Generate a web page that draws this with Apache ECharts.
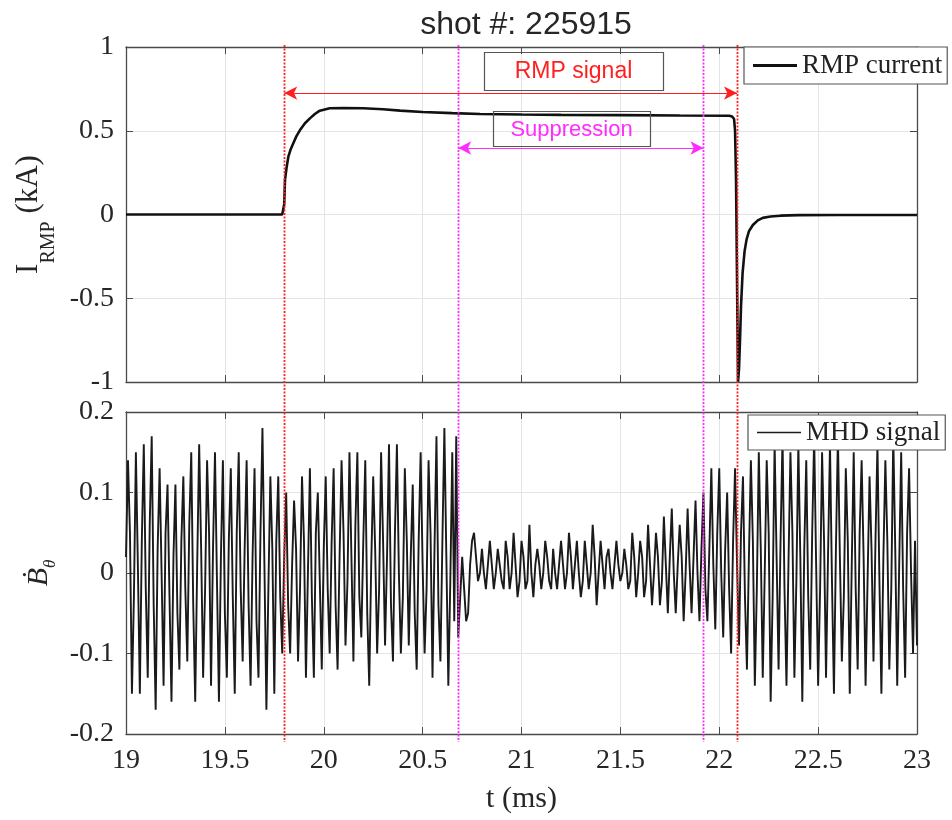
<!DOCTYPE html>
<html><head><meta charset="utf-8">
<script src="https://cdn.jsdelivr.net/npm/echarts@6/dist/echarts.min.js"></script>
<style>html,body{margin:0;padding:0;background:#fff}#c{width:952px;height:820px}</style>
</head><body><div id="c"></div>
<script>
// ---------------- DATA ----------------
const chartTitle = 'shot #: 225915';
const xRange = [19, 23];
const xStep = 0.5;
const yTopRange = [-1, 1];
const yTopStep = 0.5;
const yBotRange = [-0.2, 0.2];
const yBotStep = 0.1;

// RMP coil current (kA)
const rmpT = [19.0, 19.79, 19.795, 19.80, 19.804, 19.812, 19.821, 19.833, 19.846, 19.862, 19.88, 19.905, 19.93, 19.955, 19.98, 20.03, 20.1, 20.2, 20.3, 20.386, 20.5, 20.65, 20.79, 21.0, 21.2, 21.5, 21.8, 22.05, 22.065, 22.075, 22.08, 22.085, 22.09, 22.095, 22.10, 22.105, 22.11, 22.118, 22.128, 22.138, 22.15, 22.17, 22.195, 22.22, 22.26, 22.31, 22.4, 22.6, 23.0];
const rmpI = [0, 0, 0.0, 0.06, 0.206, 0.28, 0.345, 0.39, 0.425, 0.468, 0.504, 0.545, 0.574, 0.6, 0.62, 0.634, 0.636, 0.634, 0.628, 0.62, 0.612, 0.605, 0.6, 0.597, 0.595, 0.593, 0.591, 0.59, 0.585, 0.57, 0.5, 0.2, -0.4, -1.0, -0.92, -0.75, -0.55, -0.35, -0.22, -0.15, -0.1, -0.063, -0.035, -0.02, -0.012, -0.007, -0.004, -0.003, -0.003];

// MHD signal (Mirnov dB/dt), sampled from 19.00 ms every 0.01 ms
const mhdStart = 19.0;
const mhdStep = 0.01;
const mhdValues = [
  // 19.00 - 19.79
  0.02, 0.14, 0.05, -0.15, -0.03, 0.15, 0.01, -0.15, 0.04, 0.16, -0.02, -0.13, 0.06, 0.17, -0.04, -0.17, 0.03, 0.13, 0.00, -0.14,
  0.05, 0.11, -0.03, -0.16, 0.02, 0.11, -0.05, -0.12, 0.04, 0.12, -0.02, -0.11, 0.06, 0.15, -0.04, -0.16, 0.01, 0.16, 0.03, -0.13,
  -0.02, 0.14, 0.05, -0.14, 0.03, 0.15, -0.01, -0.16, 0.02, 0.14, -0.05, -0.13, 0.04, 0.13, -0.03, -0.15, 0.05, 0.15, -0.02, -0.11,
  0.03, 0.14, -0.04, -0.14, 0.02, 0.13, -0.06, -0.13, 0.05, 0.18, 0.01, -0.17, -0.02, 0.12, 0.03, -0.15, 0.04, 0.12, -0.03, -0.10,
  // 19.80 - 20.67
  0.02, 0.10, -0.04, -0.10, 0.01, 0.09, 0.03, -0.11, -0.02, 0.12, 0.04, -0.13, 0.00, 0.13, -0.03, -0.13, 0.05, 0.10, -0.01, -0.12,
  0.03, 0.12, -0.02, -0.10, 0.04, 0.13, -0.04, -0.12, 0.02, 0.14, 0.05, -0.09, -0.01, 0.15, 0.02, -0.11, 0.06, 0.15, -0.03, -0.08,
  0.04, 0.14, -0.05, -0.14, 0.01, 0.12, 0.03, -0.10, -0.02, 0.15, 0.04, -0.09, 0.02, 0.16, -0.04, -0.11, 0.05, 0.16, 0.00, -0.10,
  -0.03, 0.13, 0.04, -0.09, 0.02, 0.11, -0.05, -0.12, 0.04, 0.15, 0.01, -0.10, -0.02, 0.14, 0.05, -0.13, 0.03, 0.17, -0.04, -0.11,
  0.04, 0.18, 0.02, -0.14, -0.01, 0.15, -0.06, 0.17,
  // 20.68 - 21.59 (suppression)
  -0.08, -0.03, 0.02, -0.02, -0.06, -0.05, 0.01, 0.04, 0.05, 0.02, -0.01, 0.00,
  0.03, 0.00, -0.02, 0.01, 0.04, 0.01, -0.02, 0.00, 0.03, 0.01, -0.01, -0.02, 0.04, 0.02, -0.02, 0.00, 0.05, 0.01, -0.03, -0.01,
  0.04, 0.02, -0.02, -0.01, 0.06, 0.00, -0.03, 0.01, 0.03, 0.01, -0.02, 0.00, 0.04, 0.02, -0.01, -0.02, 0.03, 0.00, -0.02, 0.01,
  0.04, 0.01, -0.02, 0.00, 0.05, 0.02, -0.02, 0.01, 0.04, 0.00, -0.03, -0.01, 0.04, 0.01, -0.02, 0.00, 0.06, 0.02, -0.04, 0.00,
  0.04, 0.01, -0.02, 0.02, 0.03, 0.00, -0.02, 0.01, 0.04, 0.01, -0.01, 0.00, 0.03, 0.01, -0.02, -0.01, 0.05, 0.02, -0.03, 0.00,
  // 21.60 - 21.91 (growing)
  0.04, 0.02, -0.03, -0.01, 0.06, 0.01, -0.04, 0.00, 0.05, 0.02, -0.04, -0.01, 0.07, 0.01, -0.05, 0.02, 0.08, 0.00, -0.05, 0.01,
  0.06, 0.02, -0.06, 0.00, 0.08, 0.01, -0.05, 0.02, 0.09, 0.00, -0.06, 0.03,
  // 21.92 - 23.00
  0.10, -0.02, -0.06, 0.03, 0.13, 0.01, -0.07, 0.05,
  0.13, 0.00, -0.08, 0.03, 0.10, -0.02, -0.10, 0.04, 0.13, 0.01, -0.09, 0.05, 0.12, -0.03, -0.12, 0.02, 0.14, 0.04, -0.14, -0.02,
  0.15, 0.03, -0.13, 0.00, 0.14, 0.05, -0.16, -0.03, 0.16, 0.02, -0.12, 0.04, 0.17, -0.02, -0.14, 0.01, 0.15, 0.05, -0.13, -0.01,
  0.16, 0.02, -0.16, 0.03, 0.14, -0.03, -0.12, 0.05, 0.17, 0.01, -0.14, -0.02, 0.15, 0.04, -0.13, 0.02, 0.16, -0.01, -0.15, 0.03,
  0.17, 0.02, -0.11, -0.03, 0.13, 0.04, -0.15, 0.01, 0.15, -0.02, -0.12, 0.05, 0.14, 0.02, -0.14, -0.01, 0.12, 0.03, -0.11, 0.04,
  0.16, -0.01, -0.15, 0.02, 0.14, 0.04, -0.12, -0.02, 0.17, 0.03, -0.14, 0.01, 0.15, -0.02, -0.13, 0.05, 0.13, 0.00, -0.10, 0.04,
  -0.09
];

// event markers (ms)
const rmpOnOff = [19.80, 22.09];
const suppressionStartEnd = [20.68, 21.92];
// annotation anchors (data coords)
const rmpArrowLevel = 0.725;
const suppArrowLevel = 0.397;
const rmpLabelAt = [21.263, 0.857];
const suppLabelAt = [21.253, 0.513];
const rmpLabelText = 'RMP signal';
const suppLabelText = 'Suppression';
const seriesNames = ['RMP current', 'MHD signal'];

// ---------------- STYLE ----------------
const serif = "'Liberation Serif','Times New Roman','DejaVu Serif',serif";
const sans = "'Liberation Sans',Arial,Helvetica,sans-serif";
const axisColor = '#4a4a4a';
const labelColor = '#262626';
const gridColor = '#e4e4e4';
const red = '#ff1f1f';
const magenta = '#ff2cff';

const mhdData = mhdValues.map((v, i) => [+(mhdStart + i * mhdStep).toFixed(3), v]);
const rmpData = rmpT.map((t, i) => [t, rmpI[i]]);

function xAx(grid, pos, main, labels) {
  return {
    type: 'value', gridIndex: grid, position: pos, min: xRange[0], max: xRange[1], interval: xStep,
    axisLine: { show: true, onZero: false, lineStyle: { color: axisColor, width: 1.3 } },
    axisTick: { show: true, inside: true, length: 7, lineStyle: { color: axisColor, width: 1 } },
    axisLabel: { show: labels, color: labelColor, fontSize: 28, fontFamily: serif, margin: 13 },
    splitLine: { show: main, lineStyle: { color: gridColor, width: 1 } }
  };
}
function yAx(grid, pos, main, rng, step) {
  return {
    type: 'value', gridIndex: grid, position: pos, min: rng[0], max: rng[1], interval: step,
    axisLine: { show: true, onZero: false, lineStyle: { color: axisColor, width: 1.3 } },
    axisTick: { show: true, inside: true, length: 7, lineStyle: { color: axisColor, width: 1 } },
    axisLabel: { show: main, color: labelColor, fontSize: 28, fontFamily: serif, margin: 12 },
    splitLine: { show: main, lineStyle: { color: gridColor, width: 1 } }
  };
}

const xAxes = [
  xAx(0, 'bottom', true, false),
  Object.assign(xAx(1, 'bottom', true, true), {
    name: 't (ms)', nameLocation: 'middle', nameGap: 50,
    nameTextStyle: { fontSize: 30, fontFamily: serif, color: labelColor }
  }),
  xAx(0, 'top', false, false),
  xAx(1, 'top', false, false)
];
const yAxes = [
  Object.assign(yAx(0, 'left', true, yTopRange, yTopStep), {
    name: '{i|I}{s|RMP}{u| (kA)}', nameLocation: 'middle', nameRotate: 90, nameGap: 67,
    nameTextStyle: {
      rich: {
        i: { fontSize: 31, fontFamily: serif, color: labelColor, lineHeight: 60, verticalAlign: 'middle' },
        s: { fontSize: 20, fontFamily: serif, color: labelColor, lineHeight: 20, verticalAlign: 'bottom' },
        u: { fontSize: 31, fontFamily: serif, color: labelColor, lineHeight: 60, verticalAlign: 'middle' }
      }
    }
  }),
  Object.assign(yAx(1, 'left', true, yBotRange, yBotStep), {
    name: '{b|\u1E02}{t|\u03B8}', nameLocation: 'middle', nameRotate: 90, nameGap: 66,
    nameTextStyle: {
      rich: {
        b: { fontSize: 30, fontFamily: serif, fontStyle: 'italic', color: labelColor, lineHeight: 40, verticalAlign: 'middle' },
        t: { fontSize: 17, fontFamily: serif, fontStyle: 'italic', color: labelColor, lineHeight: 24, verticalAlign: 'bottom' }
      }
    }
  }),
  yAx(0, 'right', false, yTopRange, yTopStep),
  yAx(1, 'right', false, yBotRange, yBotStep)
];

const chart = echarts.init(document.getElementById('c'), null, { renderer: 'canvas' });
chart.setOption({
  animation: false,
  backgroundColor: '#fff',
  title: {
    text: chartTitle, left: 521, top: 4, textAlign: 'center',
    textStyle: { fontSize: 32, fontWeight: 'normal', fontFamily: sans, color: labelColor }
  },
  grid: [
    { left: 126, right: 35, top: 47, height: 335 },
    { left: 126, right: 35, top: 412, height: 322 }
  ],
  legend: [
    {
      data: [seriesNames[0]], left: 744, top: 47, icon: 'rect', itemWidth: 44, itemHeight: 3,
      padding: [5, 5, 5, 9], borderColor: '#555', borderWidth: 1.2, backgroundColor: '#fff',
      textStyle: { fontSize: 27, fontFamily: serif, color: '#222' }, selectedMode: false
    },
    {
      data: [seriesNames[1]], left: 748, top: 415, icon: 'rect', itemWidth: 44, itemHeight: 1.5,
      padding: [4, 5, 4, 9], borderColor: '#555', borderWidth: 1.2, backgroundColor: '#fff',
      textStyle: { fontSize: 27, fontFamily: serif, color: '#222' }, selectedMode: false
    }
  ],
  xAxis: xAxes,
  yAxis: yAxes,
  series: [
    {
      name: seriesNames[0], type: 'line', xAxisIndex: 0, yAxisIndex: 0, data: rmpData,
      showSymbol: false, symbol: 'none', color: '#111',
      lineStyle: { color: '#111', width: 2.6 }, z: 3,
      markLine: {
        silent: true, symbol: ['arrow', 'arrow'], symbolSize: [10, 13], label: { show: false },
        emphasis: { disabled: true },
        data: [
          [{ coord: [rmpOnOff[0], rmpArrowLevel], lineStyle: { color: red, width: 1, type: 'solid' }, itemStyle: { color: red } },
           { coord: [rmpOnOff[1], rmpArrowLevel] }],
          [{ coord: [suppressionStartEnd[0], suppArrowLevel], lineStyle: { color: magenta, width: 1, type: 'solid' }, itemStyle: { color: magenta } },
           { coord: [suppressionStartEnd[1], suppArrowLevel] }]
        ]
      }
    },
    {
      name: seriesNames[1], type: 'line', xAxisIndex: 1, yAxisIndex: 1, data: mhdData,
      showSymbol: false, symbol: 'none', color: '#1a1a1a',
      lineStyle: { color: '#1a1a1a', width: 1.9 }, z: 3
    }
  ]
});

// vertical event lines spanning both panels + annotation boxes, positioned via the axes
const yTopPx = chart.convertToPixel({ yAxisIndex: 0 }, yTopRange[1]) - 2;
const yBotPx = chart.convertToPixel({ yAxisIndex: 1 }, yBotRange[0]) + 8;
const events = [
  [rmpOnOff[0], red], [suppressionStartEnd[0], magenta], [suppressionStartEnd[1], magenta], [rmpOnOff[1], red]
];
const gfx = events.map(([t, c]) => {
  const x = Math.round(chart.convertToPixel({ xAxisIndex: 1 }, t)) + 0.5;
  return { type: 'line', silent: true, z: 50,
    shape: { x1: x, y1: yTopPx, x2: x, y2: yBotPx },
    style: { stroke: c, lineWidth: 1.8, lineDash: [2, 1.5] } };
});
const boxes = [
  [rmpLabelAt, rmpLabelText, red, 23, 179, 38],
  [suppLabelAt, suppLabelText, magenta, 22, 157, 35]
];
boxes.forEach(([at, txt, col, fs, w, h]) => {
  const p = chart.convertToPixel({ xAxisIndex: 0, yAxisIndex: 0 }, at);
  gfx.push({ type: 'rect', silent: true, z: 60,
    shape: { x: Math.round(p[0] - w / 2) + 0.5, y: Math.round(p[1] - h / 2) + 0.5, width: w, height: h },
    style: { fill: 'none', stroke: '#555', lineWidth: 1.2 } });
  gfx.push({ type: 'text', silent: true, z: 61,
    style: { text: txt, x: p[0], y: p[1] + 1, fill: col, font: fs + 'px ' + sans,
      align: 'center', verticalAlign: 'middle', textAlign: 'center', textVerticalAlign: 'middle' } });
});
chart.setOption({ graphic: gfx });
</script></body></html>
